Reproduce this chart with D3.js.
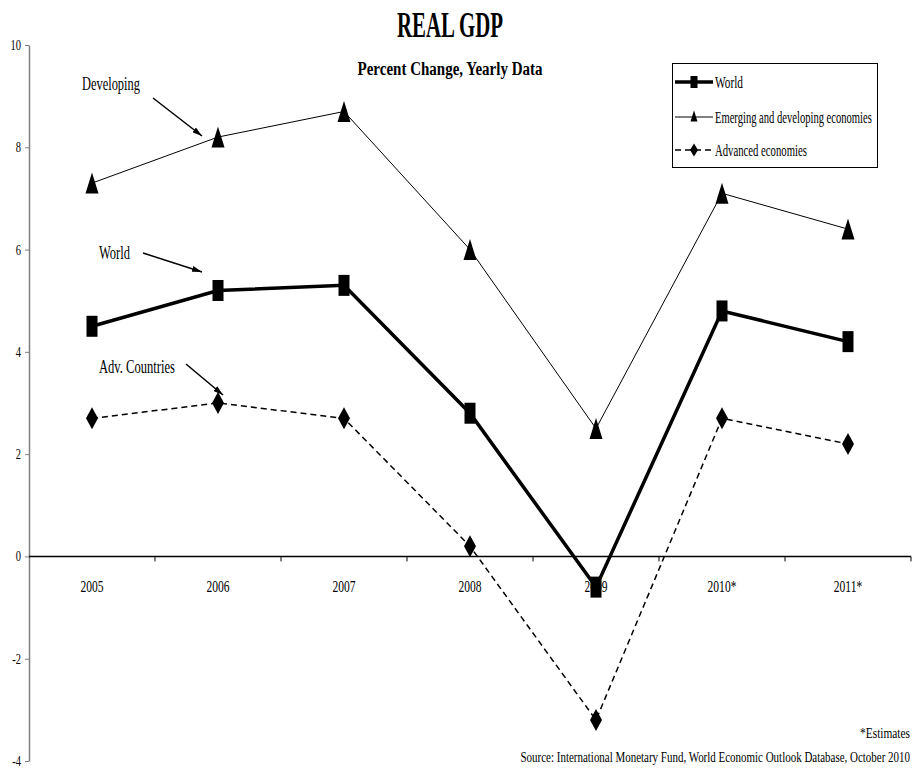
<!DOCTYPE html>
<html>
<head>
<meta charset="utf-8">
<script src="https://cdn.jsdelivr.net/npm/d3@7"></script>
<style>
  html, body { margin: 0; padding: 0; background: #fff; }
  svg { display: block; }
  text { font-family: "Liberation Serif", "Times New Roman", serif; fill: #000; }
</style>
</head>
<body>
<svg id="chart" width="913" height="771"></svg>
<script>
// Real GDP growth, percent change per year
const years = ["2005", "2006", "2007", "2008", "2009", "2010*", "2011*"];
const world = [4.5, 5.2, 5.3, 2.8, -0.6, 4.8, 4.2];
const developing = [7.3, 8.2, 8.7, 6.0, 2.5, 7.1, 6.4];
const advanced = [2.7, 3.0, 2.7, 0.2, -3.2, 2.7, 2.2];
const yTicks = [-4, -2, 0, 2, 4, 6, 8, 10];
const seriesNames = ["World", "Emerging and developing economies", "Advanced economies"];

const svg = d3.select("#chart");

const x = d3.scaleBand().domain(years).range([29, 911]);
const y = d3.scaleLinear().domain([-4, 10]).range([761, 45]);
const cx = d => x(d) + x.bandwidth() / 2;

// squeeze text horizontally to a narrow Times look
function squeeze(sel, factor) {
  sel.each(function () {
    const w = this.getComputedTextLength();
    d3.select(this).attr("textLength", w * factor).attr("lengthAdjust", "spacingAndGlyphs");
  });
}

// narrow, tall text: shrink the font to the wanted width, then stretch it vertically
function narrowText(parent, o) {
  const g = parent.append("g");
  const t = g.append("text")
    .attr("x", 0).attr("y", 0)
    .attr("font-size", o.size)
    .attr("font-weight", o.weight || "normal")
    .attr("text-anchor", o.anchor || "start")
    .text(o.text);
  const w = t.node().getComputedTextLength();
  const size = o.size * o.width / w;
  t.attr("font-size", size);
  g.attr("transform", `translate(${o.x},${o.y}) scale(1,${o.size / size})`);
  return t;
}

// Y axis
const yAxis = svg.append("g")
  .attr("transform", "translate(29,0)")
  .call(d3.axisLeft(y).tickValues(yTicks).tickFormat(d => String(d))
    .tickSize(4).tickPadding(4).tickSizeOuter(0));
yAxis.select(".domain").attr("stroke", "#7f7f7f").attr("stroke-width", 1.5);
yAxis.selectAll(".tick line").attr("stroke", "#7f7f7f");
yAxis.selectAll(".tick text")
  .attr("font-family", "Liberation Serif").attr("font-size", 14).attr("fill", "#000");
squeeze(yAxis.selectAll(".tick text"), 0.75);

// X axis along zero, ticks at category boundaries
const xg = svg.append("g");
xg.append("line")
  .attr("x1", x.range()[0]).attr("x2", x.range()[1])
  .attr("y1", y(0)).attr("y2", y(0))
  .attr("stroke", "#000").attr("stroke-width", 1.5);
const bounds = years.map(d => x(d)).concat([x.range()[1]]);
xg.selectAll("line.bt").data(bounds.slice(1)).join("line")
  .attr("class", "bt")
  .attr("x1", d => d).attr("x2", d => d)
  .attr("y1", y(0)).attr("y2", y(0) + 5)
  .attr("stroke", "#000").attr("stroke-width", 1);
const xl = xg.selectAll("text.xl").data(years).join("text")
  .attr("class", "xl")
  .attr("x", d => cx(d)).attr("y", y(0) + 36)
  .attr("text-anchor", "middle").attr("font-size", 16)
  .text(d => d);
squeeze(xl, 0.72);

// series lines
const line = vals => d3.line().x((v, i) => cx(years[i])).y(v => y(v))(vals);

svg.append("path").attr("d", line(developing))
  .attr("fill", "none").attr("stroke", "#000").attr("stroke-width", 1);
svg.append("path").attr("d", line(advanced))
  .attr("fill", "none").attr("stroke", "#000").attr("stroke-width", 1.5)
  .attr("stroke-dasharray", "6,4");
svg.append("path").attr("d", line(world))
  .attr("fill", "none").attr("stroke", "#000").attr("stroke-width", 3.5);

// marker shapes
const tri = (w, h) => `M0,${-h / 2}L${w / 2},${h / 2}L${-w / 2},${h / 2}Z`;
const dia = (w, h) => `M0,${-h / 2}L${w / 2},0L0,${h / 2}L${-w / 2},0Z`;

svg.selectAll("path.tri").data(developing).join("path")
  .attr("class", "tri")
  .attr("transform", (v, i) => `translate(${cx(years[i])},${y(v)})`)
  .attr("d", tri(13, 21)).attr("fill", "#000");
svg.selectAll("path.dia").data(advanced).join("path")
  .attr("class", "dia")
  .attr("transform", (v, i) => `translate(${cx(years[i])},${y(v)})`)
  .attr("d", dia(12, 22)).attr("fill", "#000");
svg.selectAll("rect.sq").data(world).join("rect")
  .attr("class", "sq")
  .attr("x", (v, i) => cx(years[i]) - 5.5).attr("y", v => y(v) - 10.5)
  .attr("width", 11).attr("height", 21).attr("fill", "#000");

// titles
narrowText(svg, { x: 450, y: 37, text: "REAL GDP", size: 36, width: 106, anchor: "middle", weight: "bold" });
narrowText(svg, { x: 450, y: 75, text: "Percent Change, Yearly Data", size: 19, width: 185, anchor: "middle", weight: "bold" });

// legend
const lg = svg.append("g");
lg.append("rect").attr("x", 672.5).attr("y", 63.5).attr("width", 205).attr("height", 104)
  .attr("fill", "#fff").attr("stroke", "#000").attr("stroke-width", 1);
const legendRows = [
  { name: seriesNames[0], y: 82, w: 3.5, dash: null, shape: "sq", tl: 28 },
  { name: seriesNames[1], y: 117, w: 1, dash: null, shape: "tri", tl: 157 },
  { name: seriesNames[2], y: 150, w: 1.5, dash: "6,4", shape: "dia", tl: 92 }
];
legendRows.forEach(r => {
  lg.append("line").attr("x1", 675).attr("x2", 713).attr("y1", r.y).attr("y2", r.y)
    .attr("stroke", "#000").attr("stroke-width", r.w)
    .attr("stroke-dasharray", r.dash);
  if (r.shape === "sq") {
    lg.append("rect").attr("x", 690.5).attr("y", r.y - 6).attr("width", 7).attr("height", 12).attr("fill", "#000");
  } else if (r.shape === "tri") {
    lg.append("path").attr("transform", `translate(694,${r.y - 1})`).attr("d", tri(7, 11)).attr("fill", "#000");
  } else {
    lg.append("path").attr("transform", `translate(694,${r.y})`).attr("d", dia(8, 13)).attr("fill", "#000");
  }
  narrowText(lg, { x: 715, y: r.y + 6, text: r.name, size: 16, width: r.tl });
});

// annotation arrows
const defs = svg.append("defs");
defs.append("marker").attr("id", "ah")
  .attr("viewBox", "0 0 10 6").attr("refX", 10).attr("refY", 3)
  .attr("markerWidth", 10).attr("markerHeight", 6).attr("markerUnits", "userSpaceOnUse")
  .attr("orient", "auto")
  .append("path").attr("d", "M0,0L10,3L0,6Z").attr("fill", "#000");

const notes = [
  { label: "Developing", tx: 82, ty: 90, tl: 58, a: [153, 98, 202, 136] },
  { label: "World", tx: 99, ty: 259, tl: 31, a: [143, 253, 202, 272] },
  { label: "Adv. Countries", tx: 99, ty: 373, tl: 76, a: [186, 364, 223, 395] }
];
notes.forEach(n => {
  narrowText(svg, { x: n.tx, y: n.ty, text: n.label, size: 18, width: n.tl });
  svg.append("line").attr("x1", n.a[0]).attr("y1", n.a[1]).attr("x2", n.a[2]).attr("y2", n.a[3])
    .attr("stroke", "#000").attr("stroke-width", 1.5).attr("marker-end", "url(#ah)");
});

// footnotes
narrowText(svg, { x: 910, y: 738, text: "*Estimates", size: 15, width: 50, anchor: "end" });
narrowText(svg, { x: 910, y: 762, text: "Source: International Monetary Fund, World Economic Outlook Database, October 2010", size: 15, width: 390, anchor: "end" });
</script>
</body>
</html>
